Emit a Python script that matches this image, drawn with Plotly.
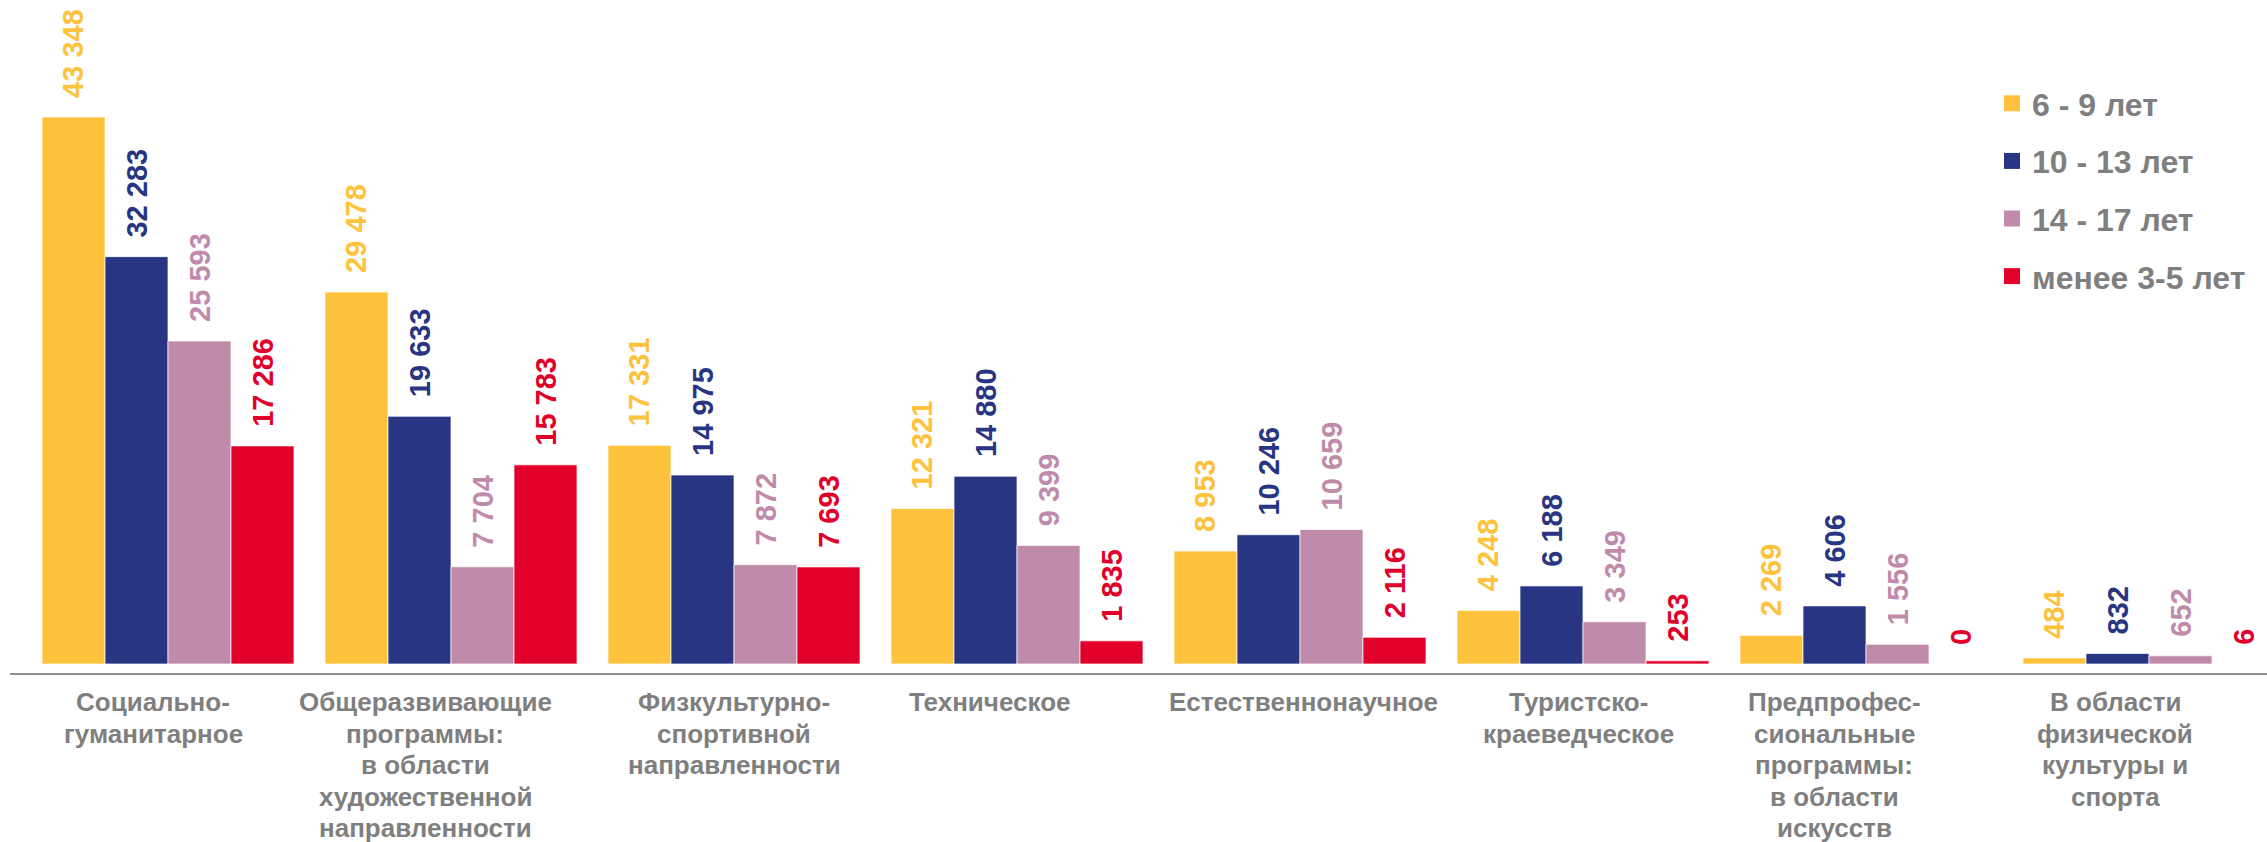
import plotly.graph_objects as go

# ---- data ----
categories = [
    "Социально-гуманитарное",
    "Общеразвивающие программы: в области художественной направленности",
    "Физкультурно-спортивной направленности",
    "Техническое",
    "Естественнонаучное",
    "Туристско-краеведческое",
    "Предпрофессиональные программы: в области искусств",
    "В области физической культуры и спорта",
]
category_lines = [
    ["Социально-", "гуманитарное"],
    ["Общеразвивающие", "программы:", "в области", "художественной", "направленности"],
    ["Физкультурно-", "спортивной", "направленности"],
    ["Техническое"],
    ["Естественнонаучное"],
    ["Туристско-", "краеведческое"],
    ["Предпрофес-", "сиональные", "программы:", "в области", "искусств"],
    ["В области", "физической", "культуры и", "спорта"],
]
series_names = ["6 - 9 лет", "10 - 13 лет", "14 - 17 лет", "менее 3-5 лет"]
age_6_9 = [43348, 29478, 17331, 12321, 8953, 4248, 2269, 484]
age_10_13 = [32283, 19633, 14975, 14880, 10246, 6188, 4606, 832]
age_14_17 = [25593, 7704, 7872, 9399, 10659, 3349, 1556, 652]
age_3_5 = [17286, 15783, 7693, 1835, 2116, 253, 0, 6]
series_values = [age_6_9, age_10_13, age_14_17, age_3_5]

# ---- style ----
colors = ["#FFC23D", "#283583", "#C08BAA", "#E1002A"]
gray = "#7F7F7F"
font_family = "Liberation Sans, Arial, sans-serif"
label_xshift = [-15, -26, 0, -27, 3, -5, -32, -34]

W, H = 2267, 842
ML, MR, MT, MB = 10, 0, 0, 169
plot_h = H - MT - MB

fig = go.Figure()
for i, (name, vals) in enumerate(zip(series_names, series_values)):
    fig.add_trace(go.Bar(
        x=categories, y=vals, name=name,
        marker=dict(color=colors[i], line=dict(width=1, color="rgba(255,255,255,0.7)")),
        texttemplate="  %{y:,d}",
        textposition="outside",
        textangle=-90,
        textfont=dict(family=font_family, size=29, color=colors[i], weight="bold"),
        cliponaxis=False,
        constraintext="none",
        showlegend=False,
        hoverinfo="skip",
    ))

# legend entries with larger square swatches
for i, name in enumerate(series_names):
    fig.add_trace(go.Scatter(
        x=[None], y=[None], mode="markers", name=name,
        marker=dict(symbol="square", size=16, color=colors[i]),
        legendgroup=name, showlegend=True, hoverinfo="skip",
    ))

# category labels, one annotation per line (tight line spacing)
first_center_px = 702
line_step = 31.5
for ci, lines in enumerate(category_lines):
    for li, line in enumerate(lines):
        cy = first_center_px + li * line_step
        fig.add_annotation(
            x=categories[ci], y=0, xref="x", yref="paper",
            text=line, showarrow=False,
            xanchor="center", yanchor="middle",
            xshift=label_xshift[ci], yshift=-(cy - plot_h),
            font=dict(family=font_family, size=26, color=gray, weight="bold"),
        )

x0 = (ML - 168) / 283
x1 = (W - 168) / 283
fig.update_layout(
    width=W, height=H,
    margin=dict(l=ML, r=MR, t=MT, b=MB, pad=0),
    paper_bgcolor="white", plot_bgcolor="white",
    barmode="group", bargap=0.1095, bargroupgap=0,
    separators=", ",
    showlegend=True,
    legend=dict(
        x=(1992 - ML) / (W - ML - MR), xanchor="left",
        y=(plot_h - 76) / plot_h, yanchor="top",
        font=dict(family=font_family, size=32, color=gray, weight="bold"),
        tracegroupgap=13,
        itemsizing="trace",
        bgcolor="rgba(0,0,0,0)",
    ),
    xaxis=dict(
        range=[x0, x1], showticklabels=False, ticks="",
        showline=True, linecolor="#8F8F8F", linewidth=2,
        showgrid=False, zeroline=False, fixedrange=True,
    ),
    yaxis=dict(
        range=[-713, 52622], visible=False, showgrid=False, zeroline=False, fixedrange=True,
    ),
)

fig.write_html(
    "out.html",
    config={"displayModeBar": False, "staticPlot": True},
    post_script="document.body.style.margin='0';document.body.style.overflow='hidden';",
)
